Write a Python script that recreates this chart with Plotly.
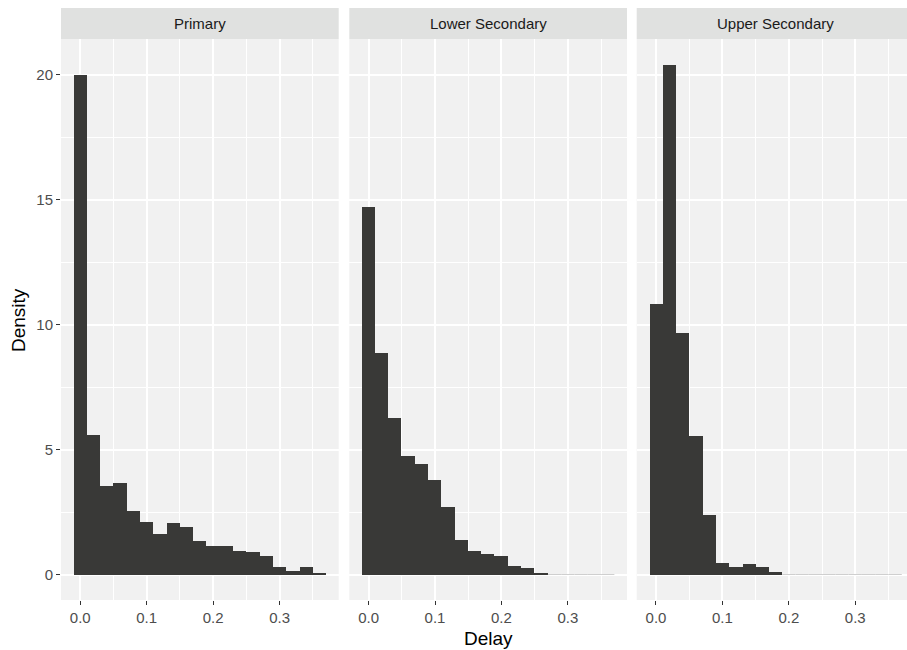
import plotly.graph_objects as go

# ---- data ----
bin_width = 0.02
bin_centers = [round(i * 0.02, 2) for i in range(19)]  # 0.00 .. 0.36

panels = ["Primary", "Lower Secondary", "Upper Secondary"]

primary = [20.0, 5.6, 3.56, 3.68, 2.56, 2.12, 1.64, 2.08, 1.92, 1.36,
           1.16, 1.16, 0.96, 0.92, 0.76, 0.32, 0.16, 0.32, 0.08]
lower_secondary = [14.72, 8.88, 6.28, 4.76, 4.44, 3.8, 2.72, 1.4, 0.96, 0.84,
                   0.76, 0.36, 0.28, 0.08, 0, 0, 0, 0, 0]
upper_secondary = [10.81, 20.4, 9.65, 5.54, 2.4, 0.46, 0.30, 0.42, 0.30, 0.10,
                   0, 0, 0, 0, 0, 0, 0, 0, 0]
series = [primary, lower_secondary, upper_secondary]

x_ticks = [0.0, 0.1, 0.2, 0.3]
x_tick_labels = ["0.0", "0.1", "0.2", "0.3"]
y_ticks = [0, 5, 10, 15, 20]
y_tick_labels = ["0", "5", "10", "15", "20"]

x_title = "Delay"
y_title = "Density"

# ---- styling ----
FONT = "Liberation Sans, Arial, Helvetica, sans-serif"
BAR = "#393937"
PANEL_BG = "#F1F1F1"
STRIP_BG = "#E0E1E0"
W, H = 907, 650
ML, MR, MT, MB = 61, 0, 39, 50
PW = W - ML - MR
PH = H - MT - MB

# panel pixel extents (left, right)
panel_px = [(61, 338.7), (349.3, 627), (636.7, 907)]
domains = [((a - ML) / PW, (b - ML) / PW) for a, b in panel_px]
px_per_unit = (338.7 - 61) / 0.418
x_lo = -0.029
y_range = [-1.02, 21.42]

fig = go.Figure()

for i, (name, vals) in enumerate(zip(panels, series)):
    ax = "" if i == 0 else str(i + 1)
    fig.add_trace(go.Bar(
        x=bin_centers, y=vals, width=[bin_width] * len(vals),
        marker=dict(color=BAR, line=dict(width=0)),
        xaxis="x" + ax, yaxis="y" + ax, showlegend=False,
        hoverinfo="x+y",
    ))
    # faint baseline where bins are empty (as drawn by the original renderer)
    zx = []
    for c, v in zip(bin_centers, vals):
        if v == 0:
            zx += [c - bin_width / 2, c + bin_width / 2, None]
    if zx:
        fig.add_trace(go.Scatter(
            x=zx, y=[0 if z is not None else None for z in zx],
            mode="lines", line=dict(color="#CFCFCF", width=1),
            xaxis="x" + ax, yaxis="y" + ax, showlegend=False, hoverinfo="skip",
        ))

    d0, d1 = domains[i]
    width_px = panel_px[i][1] - panel_px[i][0]
    x_hi = x_lo + width_px / px_per_unit

    fig.update_layout(**{
        "xaxis" + ax: dict(
            domain=[d0, d1], range=[x_lo, x_hi], anchor="y" + ax,
            tickvals=x_ticks, ticktext=x_tick_labels,
            ticks="outside", ticklen=4, tickwidth=1.1, tickcolor="#333333",
            tickfont=dict(family=FONT, size=15, color="#4D4D4D"),
            showgrid=True, gridcolor="white", gridwidth=1.6,
            minor=dict(tickvals=[0.05, 0.15, 0.25, 0.35], showgrid=True,
                       gridcolor="white", gridwidth=0.8, ticks=""),
            zeroline=False, showline=False, fixedrange=True,
        ),
        "yaxis" + ax: dict(
            domain=[0, 1], range=y_range, anchor="x" + ax,
            tickvals=y_ticks, ticktext=y_tick_labels,
            showticklabels=(i == 0),
            ticks="outside" if i == 0 else "", ticklen=4, tickwidth=1.1,
            tickcolor="#333333",
            tickfont=dict(family=FONT, size=15, color="#4D4D4D"),
            showgrid=True, gridcolor="white", gridwidth=1.6,
            minor=dict(tickvals=[2.5, 7.5, 12.5, 17.5], showgrid=True,
                       gridcolor="white", gridwidth=0.8, ticks=""),
            zeroline=False, showline=False, fixedrange=True,
        ),
    })

shapes = []
annotations = []
strip_top = 1 + 31 / PH
for i, name in enumerate(panels):
    d0, d1 = domains[i]
    # panel background
    shapes.append(dict(type="rect", xref="paper", yref="paper",
                       x0=d0, x1=d1, y0=0, y1=1, fillcolor=PANEL_BG,
                       line=dict(width=0), layer="below"))
    # strip
    shapes.append(dict(type="rect", xref="paper", yref="paper",
                       x0=d0, x1=d1, y0=1, y1=strip_top, fillcolor=STRIP_BG,
                       line=dict(width=0), layer="below"))
    centre_px = panel_px[i][0] + (px_per_unit * 0.418) / 2
    annotations.append(dict(
        text=name, xref="paper", yref="paper",
        x=(centre_px - ML) / PW, y=(1 + strip_top) / 2,
        xanchor="center", yanchor="middle", showarrow=False,
        font=dict(family=FONT, size=15, color="#1A1A1A"),
    ))

annotations.append(dict(
    text=x_title, xref="paper", yref="paper",
    x=(489 - ML) / PW, y=(PH - (638 - MT)) / PH,
    xanchor="center", yanchor="middle", showarrow=False,
    font=dict(family=FONT, size=19, color="black"),
))
annotations.append(dict(
    text=y_title, xref="paper", yref="paper",
    x=(18 - ML) / PW, y=(PH - (320 - MT)) / PH,
    xanchor="center", yanchor="middle", showarrow=False, textangle=-90,
    font=dict(family=FONT, size=19, color="black"),
))

fig.update_layout(
    width=W, height=H,
    margin=dict(l=ML, r=MR, t=MT, b=MB, pad=0),
    paper_bgcolor="white", plot_bgcolor="rgba(0,0,0,0)",
    bargap=0, barmode="overlay",
    shapes=shapes, annotations=annotations,
    font=dict(family=FONT),
    showlegend=False,
)

fig.write_html("out.html", config={"displayModeBar": False})
